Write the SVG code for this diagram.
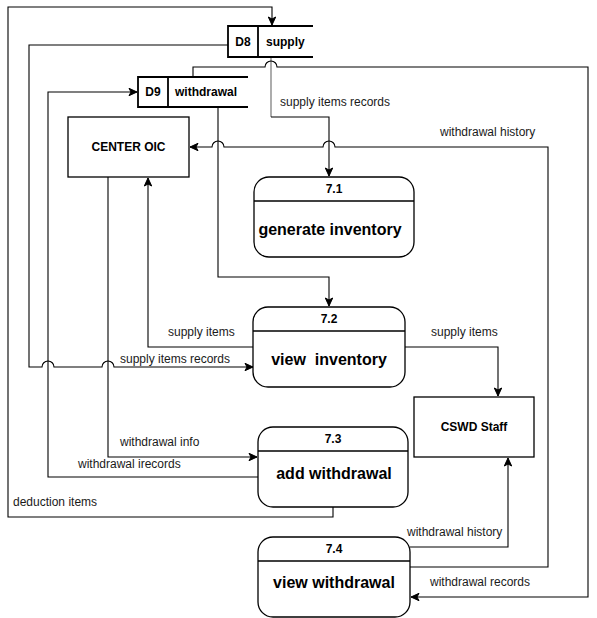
<svg xmlns="http://www.w3.org/2000/svg" width="597" height="618" viewBox="0 0 597 618">
<style>
.ln{fill:none;stroke:#000;stroke-width:1.1}
.gr{fill:none;stroke:#808080;stroke-width:1.3}
.st{fill:none;stroke:#000;stroke-width:1.8}
.box{fill:#fff;stroke:#000;stroke-width:1.3}
.lbl{font-family:"Liberation Sans",Arial,sans-serif;font-size:12px;fill:#1a1a1a}
.b{font-family:"Liberation Sans",Arial,sans-serif;font-weight:bold;fill:#000}
.s12{font-size:12px}
.s16{font-size:16px}
.c{text-anchor:middle}
</style>
<defs>
<marker id="ar" markerUnits="userSpaceOnUse" markerWidth="10" markerHeight="10" viewBox="0 0 10 10" refX="9" refY="5" orient="auto">
<path d="M1,1.3 L9,5 L1,8.7 L3,5 Z" fill="#000" stroke="#000" stroke-width="1"/>
</marker>
</defs>
<rect width="597" height="618" fill="#fff"/>
<g id="connectors">
<path class="ln" d="M333,507 V517 H8 V7 H272 V25" marker-end="url(#ar)"/>
<path class="ln" d="M228,45 H29 V367 H42 A6,6 0 0 1 54,367 H102 A6,6 0 0 1 114,367 H253" marker-end="url(#ar)"/>
<path class="gr" d="M271,57 V117"/>
<path class="ln" d="M271,117 H329 V176" marker-end="url(#ar)"/>
<path class="ln" d="M193,77 V67 H265 A6,6 0 0 1 277,67 H588 V597 H411" marker-end="url(#ar)"/>
<path class="ln" d="M218,107 V277 H329 V306" marker-end="url(#ar)"/>
<path class="ln" d="M410,567 H548 V147 H335 A6,6 0 0 0 323,147 H224 A6,6 0 0 0 212,147 H190" marker-end="url(#ar)"/>
<path class="ln" d="M108,177 V457 H257" marker-end="url(#ar)"/>
<path class="ln" d="M253,347 H148 V178" marker-end="url(#ar)"/>
<path class="ln" d="M258,477 H48 V92 H137" marker-end="url(#ar)"/>
<path class="ln" d="M405,347 H498 V396" marker-end="url(#ar)"/>
<path class="ln" d="M410,547 H508 V458" marker-end="url(#ar)"/>
<text class="lbl" x="280" y="106">supply items records</text>
<text class="lbl" x="440" y="136">withdrawal history</text>
<text class="lbl" x="168" y="336">supply items</text>
<text class="lbl" x="120" y="363">supply items records</text>
<text class="lbl" x="431" y="336">supply items</text>
<text class="lbl" x="120" y="446">withdrawal info</text>
<text class="lbl" x="78" y="468">withdrawal irecords</text>
<text class="lbl" x="13" y="506">deduction items</text>
<text class="lbl" x="407" y="536">withdrawal history</text>
<text class="lbl" x="430" y="586">withdrawal records</text>
</g>
<g id="D8">
<path class="st" d="M313,26 H228 V57 H313 M258,26 V57"/>
<text class="b s12 c" x="243" y="46">D8</text>
<text class="b s12" x="266" y="46">supply</text>
</g>
<g id="D9">
<path class="st" d="M248,77 H138 V107 H248 M168,77 V107"/>
<text class="b s12 c" x="153" y="96">D9</text>
<text class="b s12" x="175" y="96">withdrawal</text>
</g>
<g id="center-oic">
<rect class="box" x="68" y="117" width="121" height="60"/>
<text class="b s12 c" x="128.5" y="151">CENTER OIC</text>
</g>
<g id="p71">
<rect class="box" x="254" y="177" width="160" height="80" rx="15"/>
<path class="box" d="M254,201 H414"/>
<text class="b s12 c" x="334" y="193">7.1</text>
<text class="b s16 c" x="330" y="235">generate inventory</text>
</g>
<g id="p72">
<rect class="box" x="253" y="307" width="152" height="80" rx="15"/>
<path class="box" d="M253,331 H405"/>
<text class="b s12 c" x="329" y="323">7.2</text>
<text class="b s16 c" x="329" y="365" xml:space="preserve">view  inventory</text>
</g>
<g id="cswd-staff">
<rect class="box" x="414" y="397" width="120" height="60"/>
<text class="b s12 c" x="474" y="431">CSWD Staff</text>
</g>
<g id="p73">
<rect class="box" x="258" y="427" width="150" height="80" rx="15"/>
<path class="box" d="M258,451 H408"/>
<text class="b s12 c" x="333" y="443">7.3</text>
<text class="b s16 c" x="334" y="479">add withdrawal</text>
</g>
<g id="p74">
<rect class="box" x="258" y="537" width="152" height="80" rx="15"/>
<path class="box" d="M258,561 H410"/>
<text class="b s12 c" x="334" y="553">7.4</text>
<text class="b s16 c" x="334" y="588">view withdrawal</text>
</g>
</svg>
